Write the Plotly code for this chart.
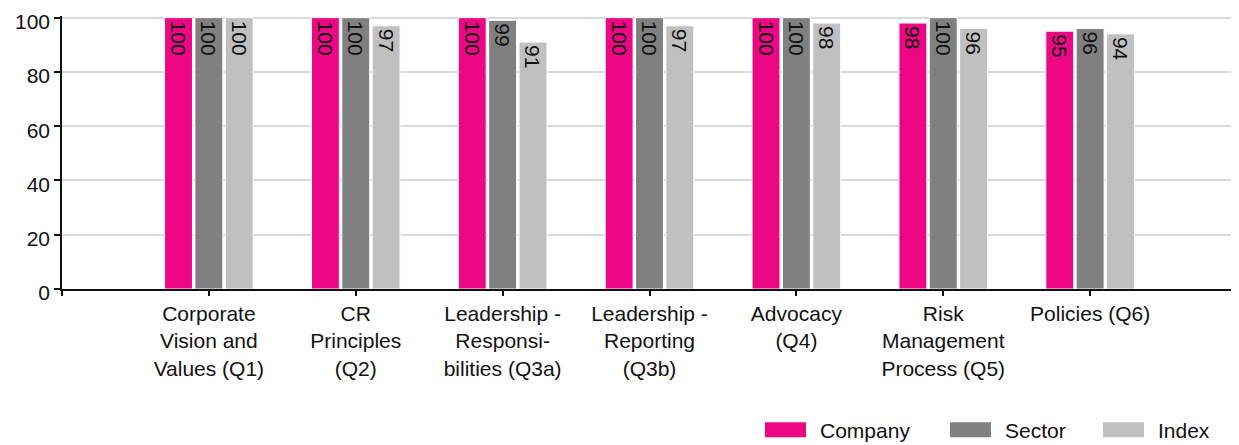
import plotly.graph_objects as go

categories = [
    "Corporate<br>Vision and<br>Values (Q1)",
    "CR<br>Principles<br>(Q2)",
    "Leadership -<br>Responsi-<br>bilities (Q3a)",
    "Leadership -<br>Reporting<br>(Q3b)",
    "Advocacy<br>(Q4)",
    "Risk<br>Management<br>Process (Q5)",
    "Policies (Q6)",
]
company = [100, 100, 100, 100, 100, 98, 95]
sector = [100, 100, 99, 100, 100, 100, 96]
index_vals = [100, 97, 91, 97, 98, 96, 94]
series_names = ["Company", "Sector", "Index"]
series_colors = ["#EE0784", "#808080", "#C0C0C0"]
y_ticks = [0, 20, 40, 60, 80, 100]

FONT = "Liberation Sans, Arial, sans-serif"
FS = 21
xpos = list(range(len(categories)))

# page body has an 8px margin: figure spans x 8..1239, y 8..445
W, H = 1231, 437
YTOP = 100.6
ML, MR, MB = 54, 2, 156
MT = 10 - 2.71 * (YTOP - 100)
PW, PH = W - ML - MR, H - MT - MB

fig = go.Figure()
for name, vals, col in zip(series_names, [company, sector, index_vals], series_colors):
    fig.add_trace(go.Bar(
        x=xpos, y=vals, name=name,
        marker=dict(color=col, line=dict(color="white", width=1)),
        text=[str(v) for v in vals],
        textposition="inside", insidetextanchor="end", textangle=90,
        textfont=dict(family=FONT, size=FS, color="#111111"),
        constraintext="none",
        showlegend=False,
    ))

fig.update_layout(
    width=W, height=H,
    margin=dict(l=ML, r=MR, t=MT, b=MB, autoexpand=False),
    paper_bgcolor="white", plot_bgcolor="white",
    barmode="group", bargap=0.38, bargroupgap=0.08,
    font=dict(family=FONT, size=FS, color="#111111"),
)
fig.update_xaxes(
    range=[-1, 7], automargin=False,
    tickmode="array",
    tickvals=[-1] + xpos + [7],
    ticktext=[""] + categories + [""],
    ticks="outside", ticklen=5, tickwidth=1.5, tickcolor="#111111",
    showline=True, linecolor="#111111", linewidth=1.5,
    showgrid=False, zeroline=False,
    tickfont=dict(family=FONT, size=FS, color="#111111"),
)
fig.update_yaxes(
    range=[0, YTOP], automargin=False,
    tickvals=y_ticks,
    ticks="outside", ticklen=6, tickwidth=1.5, tickcolor="#111111",
    showline=True, linecolor="#111111", linewidth=1.5,
    showgrid=True, gridcolor="#DADADA", gridwidth=1.5,
    zeroline=False, ticklabeloverflow="allow", ticklabelshift=4,
    tickfont=dict(family=FONT, size=FS, color="#111111"),
)

# custom legend (wide swatches) at bottom right; positions in page pixels
def px_to_paper_x(px):
    return (px - 8 - ML) / PW

def px_to_paper_y(py):
    return (H - MB - (py - 8)) / PH

leg_x = [765, 950, 1103]
for name, col, lx in zip(series_names, series_colors, leg_x):
    fig.add_shape(type="rect", xref="paper", yref="paper",
                  x0=px_to_paper_x(lx), x1=px_to_paper_x(lx + 41),
                  y0=px_to_paper_y(437), y1=px_to_paper_y(422),
                  fillcolor=col, line=dict(color=col, width=0))
    fig.add_annotation(xref="paper", yref="paper",
                       x=px_to_paper_x(lx + 53), y=px_to_paper_y(430),
                       text=name, showarrow=False, xanchor="left", yanchor="middle",
                       font=dict(family=FONT, size=FS, color="#111111"))

fig.write_html("out.html")
